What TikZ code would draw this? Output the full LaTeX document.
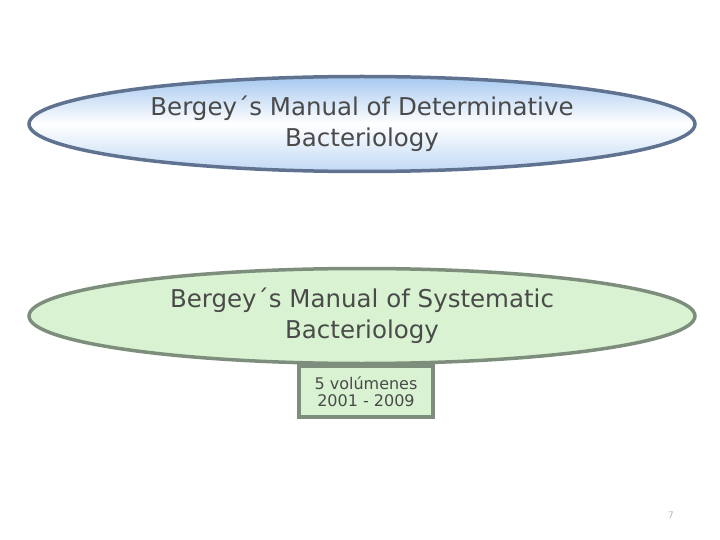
\documentclass[tikz,border=0pt]{standalone}
\usepackage{fontspec}
\setmainfont{DejaVu Sans}
\usetikzlibrary{shapes.geometric}
\definecolor{blueedge}{HTML}{5F7391}
\definecolor{bluetop}{HTML}{A6C8F0}
\definecolor{greenedge}{HTML}{7E8E7C}
\definecolor{greenfill}{HTML}{D9F3D2}
\definecolor{textgray}{HTML}{4A4A4A}
\tikzset{
  ovalblue/.style={ellipse, draw=blueedge, line width=3.5pt, minimum width=666pt, minimum height=95pt,
    top color=bluetop, bottom color=bluetop!70, middle color=white, inner sep=0pt,
    align=center, text=textgray, font=\fontsize{24.5}{31}\selectfont},
  ovalgreen/.style={ellipse, draw=greenedge, line width=3.5pt, minimum width=666pt, minimum height=95pt,
    fill=greenfill, inner sep=0pt, align=center, text=textgray, font=\fontsize{24.5}{31}\selectfont},
  notebox/.style={draw=greenedge, line width=3.5pt, fill=greenfill, minimum width=134pt, minimum height=51pt,
    align=center, text=textgray, font=\fontsize{16}{17}\selectfont, inner sep=2pt}
}
\begin{document}
\begin{tikzpicture}[x=1pt,y=-1pt]
\useasboundingbox (0,0) rectangle (720,540);
\node[ovalblue] (det) at (362,124) {Bergey´s Manual of Determinative\\Bacteriology};
\node[ovalgreen] (sys) at (362,316) {Bergey´s Manual of Systematic\\Bacteriology};
\node[notebox, anchor=north] (vol) at (366,364) {5 volúmenes\\2001 - 2009};
\node[text=gray!60, font=\fontsize{9}{10}\selectfont] (pg) at (671,515) {7};
\end{tikzpicture}
\end{document}
